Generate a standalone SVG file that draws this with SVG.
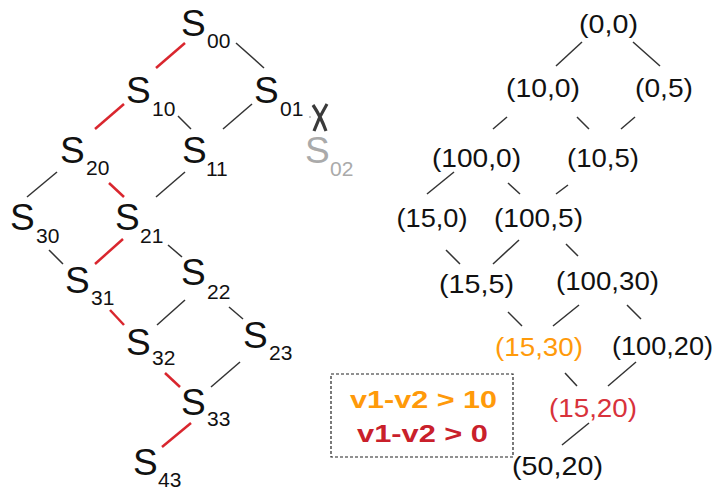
<svg xmlns="http://www.w3.org/2000/svg" width="719" height="490" viewBox="0 0 719 490">
<style>
.s{font-family:"Liberation Sans",Arial,sans-serif;font-size:37px;fill:#111}
.sub{font-family:"Liberation Sans",Arial,sans-serif;font-size:21px;fill:#111}
.g{fill:#aaaaaa}
.t{font-family:"Liberation Sans",Arial,sans-serif;font-size:26px;fill:#111;text-anchor:middle}
.or{fill:#ff9a0a}
.rd{fill:#d8323b}
.lg{font-family:"Liberation Sans",Arial,sans-serif;font-size:23px;font-weight:bold;text-anchor:middle}
.k{stroke:#333;stroke-width:1.5;fill:none}
.r{stroke:#d9262e;stroke-width:2.5;fill:none}
</style>
<rect width="719" height="490" fill="#fff"/>
<g id="connectors">
<line class="k" x1="236" y1="43" x2="264" y2="68"/>
<line class="r" x1="185" y1="43" x2="156" y2="68"/>
<line class="r" x1="124" y1="104" x2="95" y2="129"/>
<line class="k" x1="178" y1="116" x2="191" y2="129"/>
<line class="k" x1="252" y1="104" x2="223" y2="129"/>
<line class="k" x1="57" y1="172" x2="27" y2="197"/>
<line class="r" x1="109" y1="183" x2="124" y2="197"/>
<line class="k" x1="185" y1="172" x2="156" y2="197"/>
<line class="k" x1="49" y1="250" x2="63" y2="264"/>
<line class="r" x1="123" y1="239" x2="95" y2="264"/>
<line class="k" x1="168" y1="245" x2="182" y2="257"/>
<line class="r" x1="110" y1="310" x2="124" y2="325"/>
<line class="k" x1="185" y1="300" x2="157" y2="325"/>
<line class="k" x1="229" y1="307" x2="243" y2="319"/>
<line class="r" x1="165" y1="373" x2="180" y2="387"/>
<line class="k" x1="240" y1="362" x2="211" y2="387"/>
<line class="r" x1="191" y1="423" x2="162" y2="447"/>
<path d="M313,105 Q321,117 326,131 M327,104 Q319,117 314,131" stroke="#3a3a3a" stroke-width="3.2" fill="none"/>
<circle cx="310" cy="117" r="0.8" fill="#888"/>
<line class="k" x1="582" y1="42" x2="556" y2="66"/>
<line class="k" x1="633" y1="42" x2="660" y2="66"/>
<line class="k" x1="507" y1="117" x2="493" y2="129"/>
<line class="k" x1="577" y1="117" x2="589" y2="129"/>
<line class="k" x1="635" y1="117" x2="621" y2="129"/>
<line class="k" x1="454" y1="172" x2="427" y2="194"/>
<line class="k" x1="508" y1="183" x2="520" y2="194"/>
<line class="k" x1="568" y1="185" x2="556" y2="194"/>
<line class="k" x1="446" y1="250" x2="460" y2="264"/>
<line class="k" x1="519" y1="240" x2="493" y2="264"/>
<line class="k" x1="566" y1="244" x2="578" y2="256"/>
<line class="k" x1="508" y1="312" x2="522" y2="326"/>
<line class="k" x1="579" y1="305" x2="553" y2="326"/>
<line class="k" x1="627" y1="305" x2="641" y2="319"/>
<line class="k" x1="565" y1="373" x2="577" y2="386"/>
<line class="k" x1="636" y1="362" x2="608" y2="386"/>
<line class="k" x1="589" y1="423" x2="562" y2="445"/>
</g>
<g id="S00"><text class="s" x="181" y="36">S</text><text class="sub" x="207" y="48">00</text></g>
<g id="S10"><text class="s" x="126" y="103">S</text><text class="sub" x="152" y="116">10</text></g>
<g id="S01"><text class="s" x="254" y="103">S</text><text class="sub" x="280" y="116">01</text></g>
<g id="S20"><text class="s" x="60" y="163">S</text><text class="sub" x="86" y="175">20</text></g>
<g id="S11"><text class="s" x="182" y="163">S</text><text class="sub" x="206" y="176">11</text></g>
<g id="S02"><text class="s g" x="305" y="163">S</text><text class="sub g" x="330" y="176">02</text></g>
<g id="S30"><text class="s" x="10" y="230">S</text><text class="sub" x="36" y="243">30</text></g>
<g id="S21"><text class="s" x="115" y="230">S</text><text class="sub" x="140" y="243">21</text></g>
<g id="S31"><text class="s" x="65" y="293">S</text><text class="sub" x="91" y="305">31</text></g>
<g id="S22"><text class="s" x="181" y="285">S</text><text class="sub" x="207" y="299">22</text></g>
<g id="S32"><text class="s" x="126" y="355">S</text><text class="sub" x="152" y="365">32</text></g>
<g id="S23"><text class="s" x="243" y="348">S</text><text class="sub" x="269" y="360">23</text></g>
<g id="S33"><text class="s" x="181" y="415">S</text><text class="sub" x="207" y="426">33</text></g>
<g id="S43"><text class="s" x="133" y="475">S</text><text class="sub" x="158" y="487">43</text></g>
<g id="n00"><text class="t" x="608.5" y="33" textLength="59" lengthAdjust="spacingAndGlyphs">(0,0)</text></g>
<g id="n10_0"><text class="t" x="543" y="97" textLength="74" lengthAdjust="spacingAndGlyphs">(10,0)</text></g>
<g id="n0_5"><text class="t" x="664" y="97" textLength="58" lengthAdjust="spacingAndGlyphs">(0,5)</text></g>
<g id="n100_0"><text class="t" x="476.5" y="167" textLength="89" lengthAdjust="spacingAndGlyphs">(100,0)</text></g>
<g id="n10_5"><text class="t" x="603" y="167" textLength="72" lengthAdjust="spacingAndGlyphs">(10,5)</text></g>
<g id="n15_0"><text class="t" x="432" y="227" textLength="71" lengthAdjust="spacingAndGlyphs">(15,0)</text></g>
<g id="n100_5"><text class="t" x="538.5" y="227" textLength="89" lengthAdjust="spacingAndGlyphs">(100,5)</text></g>
<g id="n15_5"><text class="t" x="476.5" y="293" textLength="75" lengthAdjust="spacingAndGlyphs">(15,5)</text></g>
<g id="n100_30"><text class="t" x="607.5" y="290" textLength="103" lengthAdjust="spacingAndGlyphs">(100,30)</text></g>
<g id="n15_30"><text class="t or" x="539" y="356" textLength="88" lengthAdjust="spacingAndGlyphs">(15,30)</text></g>
<g id="n100_20"><text class="t" x="662.5" y="355" textLength="101" lengthAdjust="spacingAndGlyphs">(100,20)</text></g>
<g id="n15_20"><text class="t rd" x="593" y="417" textLength="88" lengthAdjust="spacingAndGlyphs">(15,20)</text></g>
<g id="n50_20"><text class="t" x="557.5" y="475" textLength="91" lengthAdjust="spacingAndGlyphs">(50,20)</text></g>
<g id="legend">
<rect x="331" y="374" width="182" height="83" fill="none" stroke="#222" stroke-width="1.2" stroke-dasharray="3,2"/>
<text class="lg" x="423.5" y="408" fill="#ff9a0a" textLength="147" lengthAdjust="spacingAndGlyphs">v1-v2 &gt; 10</text>
<text class="lg" x="422.5" y="442" fill="#c9202b" textLength="131" lengthAdjust="spacingAndGlyphs">v1-v2 &gt; 0</text>
</g>
</svg>
